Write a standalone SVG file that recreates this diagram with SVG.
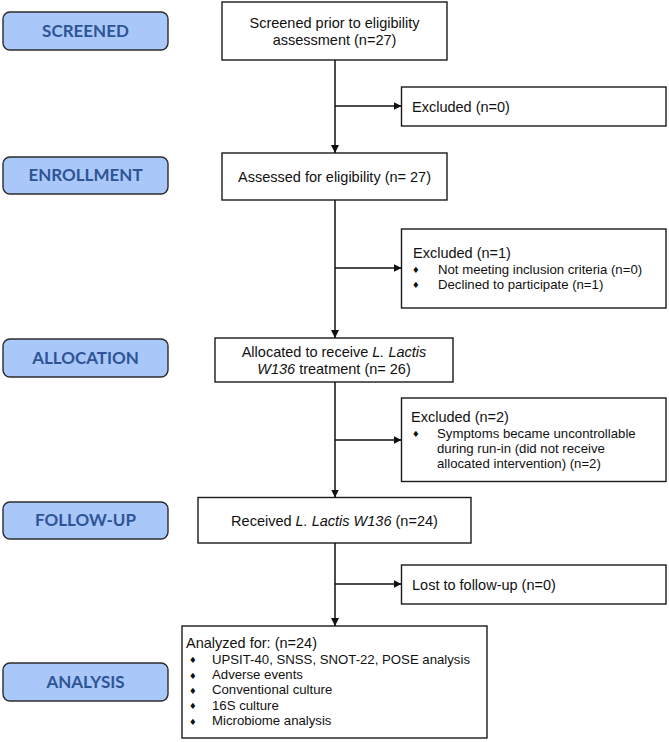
<svg xmlns="http://www.w3.org/2000/svg" width="669" height="742" viewBox="0 0 669 742">
<defs>
<style>
.lbl rect{fill:#A9C8F9;stroke:#2b2b2b;stroke-width:1.4}
.lbl text{font-family:Lato,"Open Sans",sans-serif;font-weight:bold;font-size:17px;fill:#2F5496;text-anchor:middle}
.box rect{fill:#fff;stroke:#1a1a1a;stroke-width:1.4}
.box text{font-family:"Liberation Sans",Arial,sans-serif;font-size:14.5px;fill:#111}
.box text.s{font-size:13.2px}
.c{text-anchor:middle}
.box text.b{font-family:"DejaVu Sans",sans-serif;font-size:8.5px}
.i{font-style:italic}
#connectors path{fill:none;stroke:#111;stroke-width:1.5}
</style>
<marker id="ah" viewBox="0 0 10 10" refX="10" refY="5" markerWidth="8" markerHeight="8" markerUnits="userSpaceOnUse" orient="auto">
<path d="M0,0 L10,5 L0,10 z" fill="#111"/>
</marker>
</defs>
<rect width="669" height="742" fill="#fff"/>

<g id="lbl-screened" class="lbl"><rect x="3" y="12" width="165" height="38" rx="7"/><text x="85.5" y="37">SCREENED</text></g>
<g id="lbl-enrollment" class="lbl"><rect x="3" y="157" width="165" height="37" rx="7"/><text x="85.5" y="181">ENROLLMENT</text></g>
<g id="lbl-allocation" class="lbl"><rect x="3" y="339" width="165" height="38" rx="7"/><text x="85.5" y="364">ALLOCATION</text></g>
<g id="lbl-followup" class="lbl"><rect x="3" y="502" width="165" height="37" rx="7"/><text x="85.5" y="526">FOLLOW-UP</text></g>
<g id="lbl-analysis" class="lbl"><rect x="3" y="663" width="165" height="38" rx="7"/><text x="85.5" y="688">ANALYSIS</text></g>

<g id="screened" class="box"><rect x="222" y="2" width="225" height="58"/>
<text class="c" x="334.5" y="28">Screened prior to eligibility</text>
<text class="c" x="334.5" y="45">assessment (n=27)</text></g>

<g id="excluded0" class="box"><rect x="401.5" y="87" width="264.5" height="39"/>
<text x="412" y="112">Excluded (n=0)</text></g>

<g id="assessed" class="box"><rect x="222" y="153" width="225" height="47"/>
<text class="c" x="334.5" y="182">Assessed for eligibility (n= 27)</text></g>

<g id="excluded1" class="box"><rect x="401.5" y="229" width="264.5" height="79"/>
<text x="413" y="258">Excluded (n=1)</text>
<text class="b" x="412" y="273">♦</text><text class="s" x="438" y="274">Not meeting inclusion criteria (n=0)</text>
<text class="b" x="412" y="288">♦</text><text class="s" x="438" y="289">Declined to participate (n=1)</text></g>

<g id="allocated" class="box"><rect x="215" y="338" width="238" height="44"/>
<text class="c" x="334" y="357">Allocated to receive <tspan class="i">L. Lactis</tspan></text>
<text class="c" x="334" y="374"><tspan class="i">W136</tspan> treatment (n= 26)</text></g>

<g id="excluded2" class="box"><rect x="401.5" y="398" width="264.5" height="83.5"/>
<text x="411" y="422">Excluded (n=2)</text>
<text class="b" x="412" y="436.5">♦</text><text class="s" x="437" y="437.5">Symptoms became uncontrollable</text>
<text class="s" x="437" y="453">during run-in (did not receive</text>
<text class="s" x="437" y="468">allocated intervention) (n=2)</text></g>

<g id="received" class="box"><rect x="198" y="497.5" width="273" height="45.5"/>
<text class="c" x="334.5" y="526">Received <tspan class="i">L. Lactis W136</tspan> (n=24)</text></g>

<g id="lost" class="box"><rect x="401.5" y="565" width="264.5" height="39"/>
<text x="412" y="590">Lost to follow-up (n=0)</text></g>

<g id="analyzed" class="box"><rect x="182" y="626" width="305" height="112"/>
<text x="186" y="648">Analyzed for: (n=24)</text>
<text class="b" x="189" y="663">♦</text><text class="s" x="212" y="663.5">UPSIT-40, SNSS, SNOT-22, POSE analysis</text>
<text class="b" x="189" y="678.5">♦</text><text class="s" x="212" y="679">Adverse events</text>
<text class="b" x="189" y="693.5">♦</text><text class="s" x="212" y="694">Conventional culture</text>
<text class="b" x="189" y="709">♦</text><text class="s" x="212" y="709.5">16S culture</text>
<text class="b" x="189" y="724.5">♦</text><text class="s" x="212" y="725">Microbiome analysis</text></g>

<g id="connectors">
<path d="M335,60 V153" marker-end="url(#ah)"/>
<path d="M335,106 H401.5" marker-end="url(#ah)"/>
<path d="M335,200 V338" marker-end="url(#ah)"/>
<path d="M335,268 H401.5" marker-end="url(#ah)"/>
<path d="M335,382 V497.5" marker-end="url(#ah)"/>
<path d="M335,440 H401.5" marker-end="url(#ah)"/>
<path d="M335,543 V626" marker-end="url(#ah)"/>
<path d="M335,584 H401.5" marker-end="url(#ah)"/>
</g>
</svg>
